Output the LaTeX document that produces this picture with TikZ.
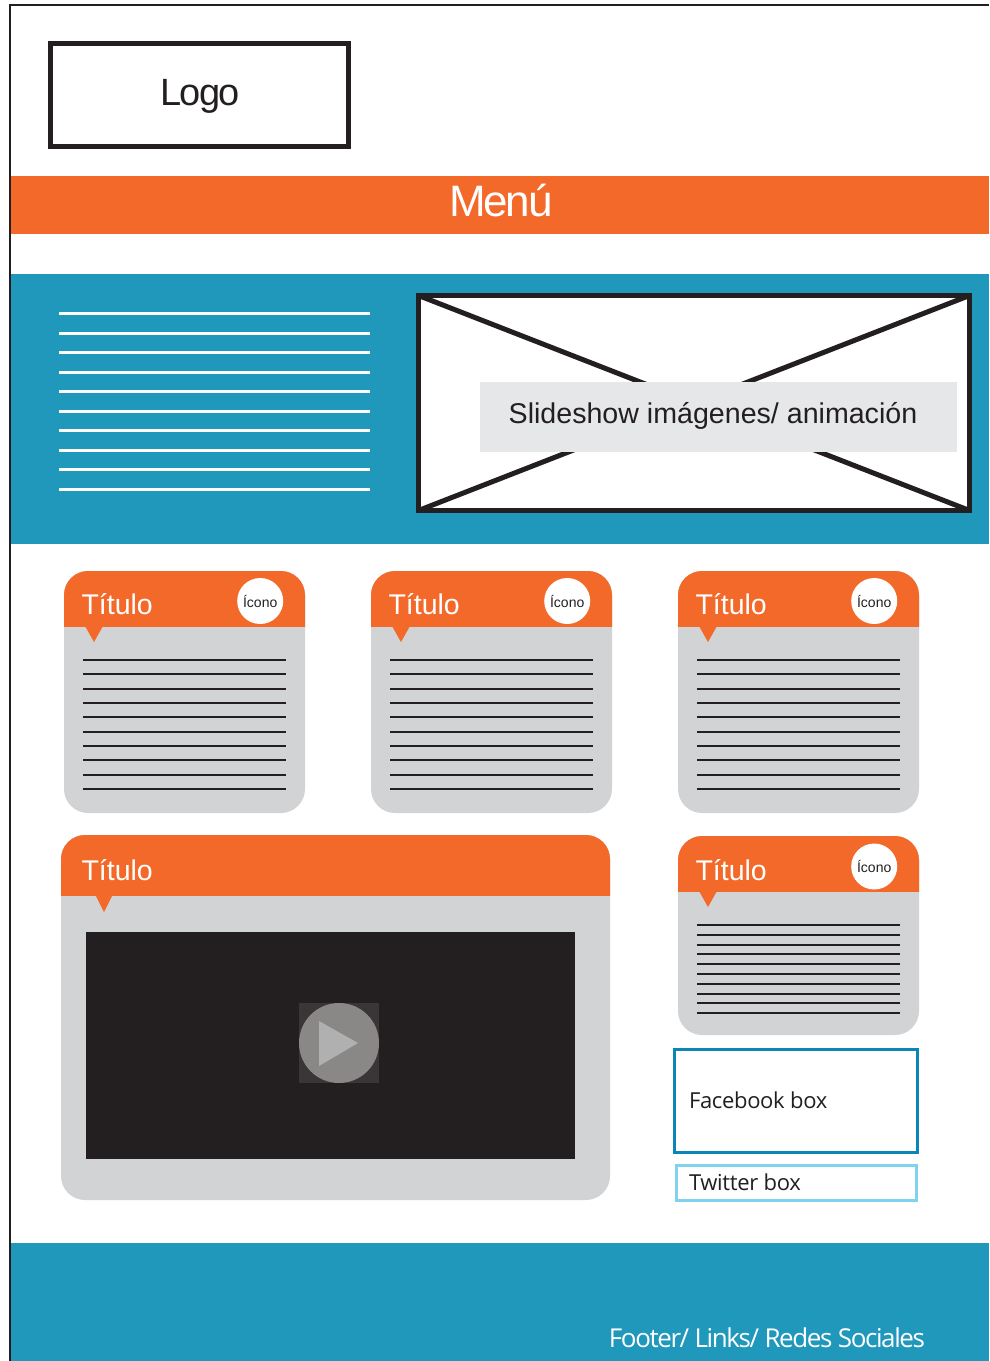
\documentclass[tikz,border=0pt]{standalone}
\usepackage{fontspec}
\setmainfont{Liberation Sans}
\newfontfamily\myr[LetterSpace=-1.5]{Open Sans}
\newfontfamily\myrtight[LetterSpace=-5.4]{Open Sans}
\newfontfamily\helvtight[LetterSpace=-5]{Liberation Sans}
\definecolor{tealc}{HTML}{2098BB}
\definecolor{orangec}{HTML}{F36929}
\definecolor{greyc}{HTML}{D1D3D4}
\definecolor{labelc}{HTML}{E6E7E8}
\definecolor{inkc}{HTML}{231F20}
\definecolor{fbc}{HTML}{0B85B5}
\definecolor{twc}{HTML}{7FD3EF}
\definecolor{playbg}{HTML}{3A3536}
\definecolor{playdisc}{HTML}{8A8787}
\definecolor{playtri}{HTML}{B0B0B0}
\tikzset{
  x=1pt,y=-1pt,
  lbl/.style={inner sep=0pt,outer sep=0pt},
  titulo/.style={lbl,anchor=base west,text=white,font=\fontsize{28.5}{28.5}\selectfont},
  icono/.style={circle,fill=white,inner sep=0pt,minimum size=46pt,text=inkc,font=\fontsize{14}{14}\selectfont},
  rule/.style={inkc,line width=1.7pt},
  boxtext/.style={lbl,anchor=base west,text=inkc,font=\myr\fontsize{22}{22}\selectfont},
}
\newcommand{\cardbody}[5]{% x, y, w, h, headbottom
  \fill[greyc,rounded corners=24pt] (#1,#2) rectangle ++(#3,#4);
  \begin{scope}
    \clip (#1,#2) rectangle (#1+#3,#5);
    \fill[orangec,rounded corners=24pt] (#1,#2) rectangle ++(#3,#4);
  \end{scope}
}
\newcommand{\pointer}[3]{% tip centre x, head bottom, depth
  \fill[orangec] (#1-9,#2-1) -- (#1+9,#2-1) -- (#1,#2+#3) -- cycle;
}
\newcommand{\rules}[3]{% x, first y, gap
  \foreach \i in {0,...,9} \draw[rule] (#1,{round(#2+\i*#3)}) -- (#1+203,{round(#2+\i*#3)});
}
\begin{document}
\begin{tikzpicture}
\useasboundingbox (0,0) rectangle (989,1361);
\fill[white] (0,0) rectangle (989,1361);

% logo
\node[lbl,draw=inkc,line width=5pt,minimum width=298.5pt,minimum height=103pt,anchor=north west] (logo) at (50.2,43.5) {};
\node[lbl,text=inkc,font=\helvtight\fontsize{38}{38}\selectfont,anchor=base] (logot) at (200,105) {Logo};

% menu
\fill[orangec] (11,176) rectangle (989,234);
\node[lbl,text=white,font=\helvtight\fontsize{44}{44}\selectfont,anchor=base] (menu) at (501,216) {Menú};

% hero
\fill[tealc] (11,274) rectangle (989,544);
\foreach \i in {0,...,9} \draw[white,line width=3pt] (59,{round(313+\i*19.55)}) -- (370,{round(313+\i*19.55)});
\node[lbl,fill=white,draw=inkc,line width=5pt,minimum width=551pt,minimum height=215pt,anchor=north west] (show) at (418.5,295.5) {};
\draw[inkc,line width=5pt] (show.north west) -- (show.south east);
\draw[inkc,line width=5pt] (show.north east) -- (show.south west);
\node[lbl,fill=labelc,minimum width=477pt,minimum height=70pt,anchor=north west] (showbg) at (480,382) {};
\node[lbl,text=inkc,font=\fontsize{28.6}{28.6}\selectfont,anchor=base] (showt) at (713,423) {Slideshow imágenes/ animación};

% three small cards
\foreach \n/\dx in {a/0,b/307,c/614}{
  \cardbody{64+\dx}{571}{241}{242}{626.7}
  \pointer{94+\dx}{627}{15}
  \rules{83+\dx}{660}{14.33}
  \node[titulo] (tit\n) at (81.5+\dx,614) {Título};
  \node[icono] (ico\n) at (260.2+\dx,601) {\raisebox{-1pt}{Ícono}};
}

% big video card
\cardbody{61}{835}{549}{365}{895}
\pointer{104}{895}{17}
\node[titulo] (titv) at (81.5,880) {Título};
\node[lbl,fill=inkc,minimum width=489pt,minimum height=227pt,anchor=north west] (video) at (86,932) {};
\fill[playbg] (299,1003) rectangle (379,1083);
\fill[playdisc] (339,1043) circle (40);
\fill[playtri] (319,1021) -- (358,1043) -- (319,1066) -- cycle;

% lower right card
\cardbody{678}{836}{241}{199}{891.7}
\pointer{708}{892}{15}
\rules{697}{925}{9.8}
\node[titulo] (titd) at (695.5,880) {Título};
\node[icono] (icod) at (874.2,866.5) {\raisebox{-1pt}{Ícono}};

% social boxes
\node[lbl,draw=fbc,line width=2.7pt,minimum width=243pt,minimum height=103pt,anchor=north west] (fb) at (674.7,1049.7) {};
\node[boxtext] (fbt) at (689,1108) {Facebook box};
\node[lbl,draw=twc,line width=2.7pt,minimum width=240pt,minimum height=35pt,anchor=north west] (tw) at (676.3,1165.3) {};
\node[boxtext] (twt) at (689,1190) {Twitter box};

% footer
\fill[tealc] (11,1243) rectangle (989,1361);
\node[lbl,text=white,font=\myrtight\fontsize{26}{26}\selectfont,anchor=base east] (foot) at (925,1347) {Footer/ Links/ Redes Sociales};

% page frame
\draw[inkc,line width=2.4pt] (10.2,1361) -- (10.2,5.2) -- (989,5.2);
\end{tikzpicture}
\end{document}
